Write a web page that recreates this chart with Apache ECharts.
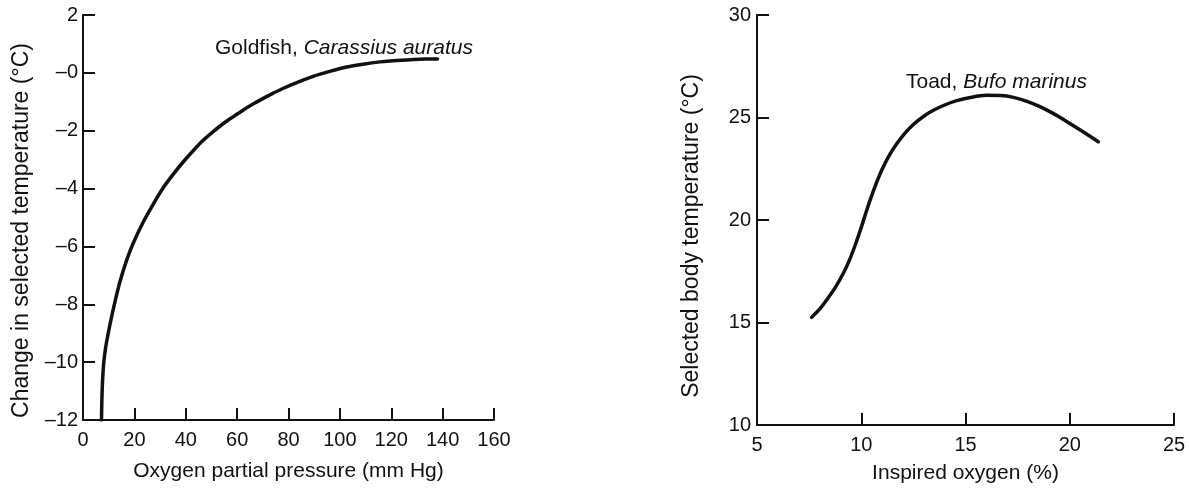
<!DOCTYPE html>
<html><head><meta charset="utf-8">
<script src="https://cdn.jsdelivr.net/npm/echarts@6/dist/echarts.min.js"></script>
<style>html,body{margin:0;padding:0;background:#fff}#c{width:1189px;height:494px}</style>
</head><body><div id="c"></div>
<script>
// Goldfish, Carassius auratus: oxygen partial pressure (mm Hg) vs change in selected temperature (°C)
const goldfishX = [7.2, 7.3, 7.45, 7.7, 8.1, 8.8, 9.7, 10.9, 12.3, 14.3, 16.9, 19.5, 23.3, 27.2, 31.1, 35, 38.9, 42.8, 46.7, 50.6, 54.5, 58.4, 62.3, 66.2, 70, 73.9, 77.8, 83.7, 89.6, 96, 102.6, 109, 115.6, 122, 128.5, 133, 138];
const goldfishY = [-12, -11.5, -11, -10.5, -10, -9.5, -9.06, -8.53, -7.97, -7.25, -6.5, -5.9, -5.18, -4.56, -3.99, -3.52, -3.09, -2.7, -2.34, -2.04, -1.76, -1.52, -1.29, -1.08, -0.89, -0.71, -0.54, -0.32, -0.12, 0.05, 0.2, 0.3, 0.38, 0.43, 0.46, 0.475, 0.48];
// Toad, Bufo marinus: inspired oxygen (%) vs selected body temperature (°C)
const toadX = [7.62, 8.0, 8.34, 8.75, 9.14, 9.45, 9.75, 10.02, 10.22, 10.42, 10.7, 10.98, 11.33, 11.7, 12.1, 12.5, 13.0, 13.46, 14.0, 14.58, 15.3, 16.02, 16.7, 17.3, 17.95, 18.57, 19.2, 19.85, 20.6, 21.37];
const toadY = [15.25, 15.65, 16.1, 16.7, 17.4, 18.08, 18.89, 19.7, 20.34, 20.96, 21.74, 22.43, 23.13, 23.72, 24.24, 24.66, 25.06, 25.35, 25.61, 25.82, 25.99, 26.08, 26.07, 25.98, 25.79, 25.53, 25.2, 24.81, 24.33, 23.82];
// tick values
const leftXTicks = [0, 20, 40, 60, 80, 100, 120, 140, 160];
const leftYTicks = [-12, -10, -8, -6, -4, -2, 0, 2];
const rightXTicks = [5, 10, 15, 20, 25];
const rightYTicks = [10, 15, 20, 25, 30];

const FONT = "'Liberation Sans', Arial, Helvetica, sans-serif";
const INK = '#111';

function zip(xs, ys) { return xs.map((x, i) => [x, ys[i]]); }

function axisBase(extra) {
  return Object.assign({
    type: 'value',
    axisLine: { show: true, onZero: false, lineStyle: { color: INK, width: 2 } },
    axisTick: { show: true, inside: true, length: 12, lineStyle: { color: INK, width: 2 } },
    splitLine: { show: false },
    axisLabel: { color: INK, fontFamily: FONT, fontSize: 20 },
    nameLocation: 'middle',
    nameTextStyle: { color: INK, fontFamily: FONT, fontSize: 21 }
  }, extra);
}

const richStyle = {
  n: { fontFamily: FONT, fontSize: 21, fontWeight: 'normal', color: INK },
  i: { fontFamily: FONT, fontSize: 21, fontWeight: 'normal', fontStyle: 'italic', color: INK }
};

const chart = echarts.init(document.getElementById('c'), null, { renderer: 'canvas' });
chart.setOption({
  animation: false,
  backgroundColor: '#fff',
  title: [
    {
      left: 210, top: 33,
      text: '{n|Goldfish, }{i|Carassius auratus}',
      textStyle: { fontWeight: 'normal', rich: richStyle }
    },
    {
      left: 901, top: 67,
      text: '{n|Toad, }{i|Bufo marinus}',
      textStyle: { fontWeight: 'normal', rich: richStyle }
    }
  ],
  grid: [
    { left: 83, top: 15, width: 411, height: 405 },
    { left: 757, top: 15, width: 417, height: 410 }
  ],
  xAxis: [
    axisBase({
      gridIndex: 0, min: leftXTicks[0], max: leftXTicks[leftXTicks.length - 1], interval: 20,
      name: 'Oxygen partial pressure (mm Hg)', nameGap: 41,
      axisLabel: { color: INK, fontFamily: FONT, fontSize: 20, margin: 10 }
    }),
    axisBase({
      gridIndex: 1, min: rightXTicks[0], max: rightXTicks[rightXTicks.length - 1], interval: 5,
      name: 'Inspired oxygen (%)', nameGap: 38,
      axisLabel: { color: INK, fontFamily: FONT, fontSize: 20, margin: 10 }
    })
  ],
  yAxis: [
    axisBase({
      gridIndex: 0, min: leftYTicks[0], max: leftYTicks[leftYTicks.length - 1], interval: 2,
      name: 'Change in selected temperature (°C)', nameGap: 50,
      nameTextStyle: { color: INK, fontFamily: FONT, fontSize: 23, padding: [0, 26, 0, 0] },
      axisLabel: {
        color: INK, fontFamily: FONT, fontSize: 20, margin: 5,
        formatter: v => (v <= 0 ? '\u2013' + Math.abs(v) : String(v))
      }
    }),
    axisBase({
      gridIndex: 1, min: rightYTicks[0], max: rightYTicks[rightYTicks.length - 1], interval: 5,
      name: 'Selected body temperature (°C)', nameGap: 54,
      nameTextStyle: { color: INK, fontFamily: FONT, fontSize: 23, padding: [0, 32, 0, 0] },
      axisLabel: { color: INK, fontFamily: FONT, fontSize: 20, margin: 6 }
    })
  ],
  series: [
    {
      type: 'line', xAxisIndex: 0, yAxisIndex: 0,
      data: zip(goldfishX, goldfishY), smooth: 0.3, showSymbol: false,
      lineStyle: { color: INK, width: 3.5, cap: 'round' }
    },
    {
      type: 'line', xAxisIndex: 1, yAxisIndex: 1,
      data: zip(toadX, toadY), smooth: 0.3, showSymbol: false,
      lineStyle: { color: INK, width: 3.5, cap: 'round' }
    }
  ]
});
</script>
</body></html>
